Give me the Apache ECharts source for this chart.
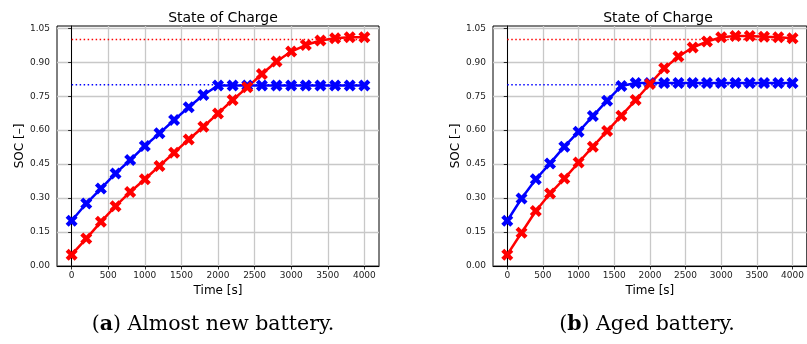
<!DOCTYPE html>
<html>
<head>
<meta charset="utf-8">
<script src="https://cdn.jsdelivr.net/npm/echarts@6/dist/echarts.min.js"></script>
<style>
	html, body {margin: 0; padding: 0; background: #fff;}
	#socChart {width: 807px; height: 344px;}
</style>
</head>
<body>
<div id="socChart"></div>
<script>
// time steps [s]
var timeS = [0, 200, 400, 600, 800, 1000, 1200, 1400, 1600, 1800, 2000,
	2200, 2400, 2600, 2800, 3000, 3200, 3400, 3600, 3800, 4000];

// (a) almost new battery
var socNewBlue = [0.200, 0.276, 0.342, 0.409, 0.468, 0.530, 0.586, 0.645, 0.701, 0.755, 0.797,
	0.797, 0.797, 0.797, 0.797, 0.797, 0.797, 0.797, 0.797, 0.797, 0.797];
var socNewRed = [0.050, 0.121, 0.195, 0.264, 0.327, 0.383, 0.442, 0.500, 0.559, 0.615, 0.674,
	0.733, 0.789, 0.848, 0.903, 0.947, 0.976, 0.996, 1.006, 1.010, 1.010];

// (b) aged battery
var socAgedBlue = [0.200, 0.298, 0.383, 0.453, 0.527, 0.593, 0.662, 0.730, 0.795, 0.808, 0.808,
	0.808, 0.808, 0.808, 0.808, 0.808, 0.808, 0.808, 0.808, 0.808, 0.808];
var socAgedRed = [0.050, 0.147, 0.243, 0.320, 0.386, 0.457, 0.527, 0.596, 0.664, 0.733, 0.804,
	0.873, 0.925, 0.965, 0.991, 1.010, 1.016, 1.016, 1.013, 1.010, 1.006];

// target SOC levels (dotted)
var targetRed = 1.0;
var targetBlue = 0.8;
var targetSpan = [0, 4000];

// tick labels
var xTicks = [0, 500, 1000, 1500, 2000, 2500, 3000, 3500, 4000];
var yTicks = [0, 0.15, 0.30, 0.45, 0.60, 0.75, 0.90, 1.05];

var titleText = 'State of Charge';
var xName = 'Time [s]';
var yName = 'SOC [\u2013]';

var xMarker = 'path://M-0.5,-0.25 L-0.25,-0.5 L0,-0.25 L0.25,-0.5 L0.5,-0.25 L0.25,0 L0.5,0.25 L0.25,0.5 L0,0.25 L-0.25,0.5 L-0.5,0.25 L-0.25,0 Z';

function pairs(xs, ys) {
	var out = [];
	for (var i = 0; i < xs.length; i++) {
		out.push([xs[i], ys[i]]);
	}
	return out;
}

function makeXAxis(idx) {
	return {
		gridIndex: idx,
		type: 'value',
		min: -200,
		max: 4200,
		name: xName,
		nameLocation: 'middle',
		nameGap: 15,
		nameTextStyle: {fontFamily: 'DejaVu Sans', fontSize: 12, color: '#000'},
		axisLine: {show: true, onZero: false, lineStyle: {color: '#000', width: 1}},
		axisTick: {show: true, length: 3.5, customValues: xTicks, lineStyle: {color: '#000', width: 0.8}},
		axisLabel: {
			customValues: xTicks,
			margin: 5,
			fontFamily: 'DejaVu Sans',
			fontSize: 9,
			color: '#222',
			formatter: function (value) {
				return String(value);
			}
		},
		splitLine: {show: true, lineStyle: {color: '#c8c8c8', width: 1.3}}
	};
}

function makeYAxis(idx) {
	return {
		gridIndex: idx,
		type: 'value',
		min: 0,
		max: 1.06,
		name: yName,
		nameLocation: 'middle',
		nameRotate: 90,
		nameGap: 30,
		nameTextStyle: {fontFamily: 'DejaVu Sans', fontSize: 12, color: '#000'},
		axisLine: {show: true, lineStyle: {color: '#000', width: 1}},
		axisTick: {show: true, length: 3.5, customValues: yTicks, lineStyle: {color: '#000', width: 0.8}},
		axisLabel: {
			customValues: yTicks,
			margin: 7,
			fontFamily: 'DejaVu Sans',
			fontSize: 9,
			color: '#222',
			formatter: function (value) {
				return value.toFixed(2);
			}
		},
		splitLine: {show: true, lineStyle: {color: '#c8c8c8', width: 1.3}}
	};
}

function socSeries(idx, data, color) {
	return {
		type: 'line',
		xAxisIndex: idx,
		yAxisIndex: idx,
		data: pairs(timeS, data),
		symbol: xMarker,
		symbolSize: 12,
		showSymbol: true,
		lineStyle: {color: color, width: 2.5},
		itemStyle: {color: color},
		z: 3,
		animation: false
	};
}

function targetSeries(idx, level, color) {
	return {
		type: 'line',
		xAxisIndex: idx,
		yAxisIndex: idx,
		data: [[targetSpan[0], level], [targetSpan[1], level]],
		symbol: 'none',
		lineStyle: {color: color, width: 1.5, type: [1.5, 2.5]},
		z: 2,
		animation: false
	};
}

var chart = echarts.init(document.getElementById('socChart'));

var captionRich = {
	p: {fontFamily: 'DejaVu Serif', fontSize: 20.5, fill: '#000'},
	b: {fontFamily: 'DejaVu Serif', fontSize: 20.5, fontWeight: 'bold', fill: '#000'}
};

var option = {
	animation: false,
	backgroundColor: '#fff',
	title: [
		{text: titleText, left: 218, top: 6, textAlign: 'center',
			textStyle: {fontFamily: 'DejaVu Sans', fontSize: 14, fontWeight: 'normal', color: '#000'}},
		{text: titleText, left: 653, top: 6, textAlign: 'center',
			textStyle: {fontFamily: 'DejaVu Sans', fontSize: 14, fontWeight: 'normal', color: '#000'}}
	],
	grid: [
		{left: 57, top: 26, width: 322, height: 240, show: true, borderColor: '#000', borderWidth: 1},
		{left: 493, top: 26, width: 322, height: 240, show: true, borderColor: '#000', borderWidth: 1}
	],
	xAxis: [makeXAxis(0), makeXAxis(1)],
	yAxis: [makeYAxis(0), makeYAxis(1)],
	series: [
		socSeries(0, socNewBlue, '#0000ff'),
		socSeries(0, socNewRed, '#ff0000'),
		targetSeries(0, targetRed, '#ff0000'),
		targetSeries(0, targetBlue, '#0000ff'),
		socSeries(1, socAgedBlue, '#0000ff'),
		socSeries(1, socAgedRed, '#ff0000'),
		targetSeries(1, targetRed, '#ff0000'),
		targetSeries(1, targetBlue, '#0000ff')
	],
	graphic: [
		{
			type: 'text', x: 213, y: 325,
			style: {
				text: '{p|(}{b|a}{p|) Almost new battery.}',
				align: 'center', verticalAlign: 'middle',
				rich: captionRich
			}
		},
		{
			type: 'text', x: 647, y: 325,
			style: {
				text: '{p|(}{b|b}{p|) Aged battery.}',
				align: 'center', verticalAlign: 'middle',
				rich: captionRich
			}
		}
	]
};

chart.setOption(option);
</script>
</body>
</html>
